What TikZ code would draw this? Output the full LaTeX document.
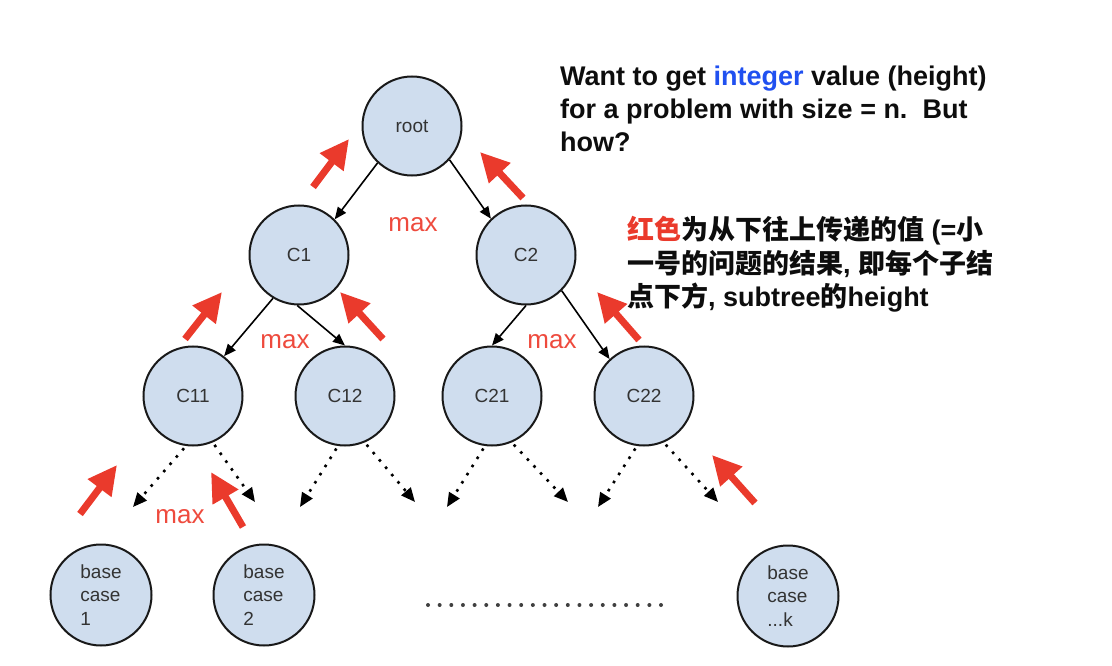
\documentclass[tikz,border=0pt]{standalone}
\usepackage{fontspec}
\setmainfont{Liberation Sans}
\newfontfamily\cjk{Noto Sans CJK SC}
\usetikzlibrary{arrows.meta}
\definecolor{nodefill}{HTML}{CFDDEE}
\definecolor{upred}{HTML}{EA3A2C}
\definecolor{maxred}{HTML}{EE4A3D}
\definecolor{intblue}{HTML}{2050F0}
\definecolor{nodetext}{HTML}{333333}
\tikzset{
  treenode/.style={circle,draw=black!90,line width=2pt,fill=nodefill,minimum size=99pt,inner sep=0pt,
    font=\fontsize{19}{23.5}\selectfont,text=nodetext},
  basenode/.style={treenode,align=left,minimum size=101pt},
  childarrow/.style={line width=1.6pt,-{Triangle[length=12pt,width=10pt]}},
  dotarrow/.style={line width=2.6pt,dash pattern=on 2.6pt off 7pt,shorten <=3pt,
    -{Triangle[length=14pt,width=12pt]}},
  upvalue/.style={upred,line width=7pt,-{Triangle[length=29pt,width=28pt]}},
  maxlabel/.style={text=maxred,font=\fontsize{26}{30}\selectfont},
}
\begin{document}
\begin{tikzpicture}[x=1pt,y=-1pt]
\useasboundingbox (0,0) rectangle (1112,666);
% tree nodes
\node[treenode] (root) at (412,126) {root};
\node[treenode] (C1) at (299,255) {C1};
\node[treenode] (C2) at (526,255) {C2};
\node[treenode] (C11) at (193,396) {C11};
\node[treenode] (C12) at (345,396) {C12};
\node[treenode] (C21) at (492,396) {C21};
\node[treenode] (C22) at (644,396) {C22};
\node[basenode] (base1) at (101,595) {base\\case\\1};
\node[basenode] (base2) at (264,595) {base\\case\\2};
\node[basenode] (basek) at (788,596) {base\\case\\...k};
% edges down
\draw[childarrow] (root.227) -- (C1.45);
\draw[childarrow] (root.-42) -- (C2.134);
\draw[childarrow] (C1.239) -- (C11.52);
\draw[childarrow] (C1.268) -- (C12.90);
\draw[childarrow] (C2.270) -- (C21.90);
\draw[childarrow] (C2.-45) -- (C22.133);
% dotted edges to the next level
\foreach \n/\lx/\rx in {C11/133/255,C12/300/415,C21/447/568,C22/598/718}{
  \coordinate (\n-l) at (\lx,507);
  \coordinate (\n-r) at (\rx,502);
  \draw[dotarrow] (\n.262) -- (\n-l);
  \draw[dotarrow] (\n.293) -- (\n-r);
}
% values going up
\foreach \ax/\ay/\bx/\by in {313/187/349/139,523/198/480/152,185/339/222/292,383/339/340/292,
    639/340/597/292,80/514/117/465,243/527/211/472,755/503/712/455}
  \draw[upvalue] (\ax,\ay) -- (\bx,\by);
% max labels
\node[maxlabel] (max1) at (413,225) {max};
\node[maxlabel] (max2) at (285,342) {max};
\node[maxlabel] (max3) at (552,342) {max};
\node[maxlabel] (max4) at (180,517) {max};
% gap between base cases
\coordinate (gapl) at (428,605);
\coordinate (gapr) at (661,605);
\draw[black!75,line width=4pt,line cap=round,dash pattern=on 0pt off 11.65pt] (gapl) -- (gapr);
% notes
\node[anchor=north west,inner sep=0pt,align=left,text=black!95,
  font=\bfseries\fontsize{27}{33}\selectfont] (goal) at (560,66)
  {Want to get \textcolor{intblue}{integer} value (height)\\for a problem with size = n.\ \ But\\how?};
\node[anchor=north west,inner sep=0pt,align=left,text=black!95,
  font=\bfseries\fontsize{27}{33.5}\selectfont] (note) at (627,216)
  {{\cjk\textcolor{upred}{红色}为从下往上传递的值} (={\cjk 小}\\{\cjk 一号的问题的结果}, {\cjk 即每个子结}\\{\cjk 点下方}, subtree{\cjk 的}height};
\end{tikzpicture}
\end{document}
